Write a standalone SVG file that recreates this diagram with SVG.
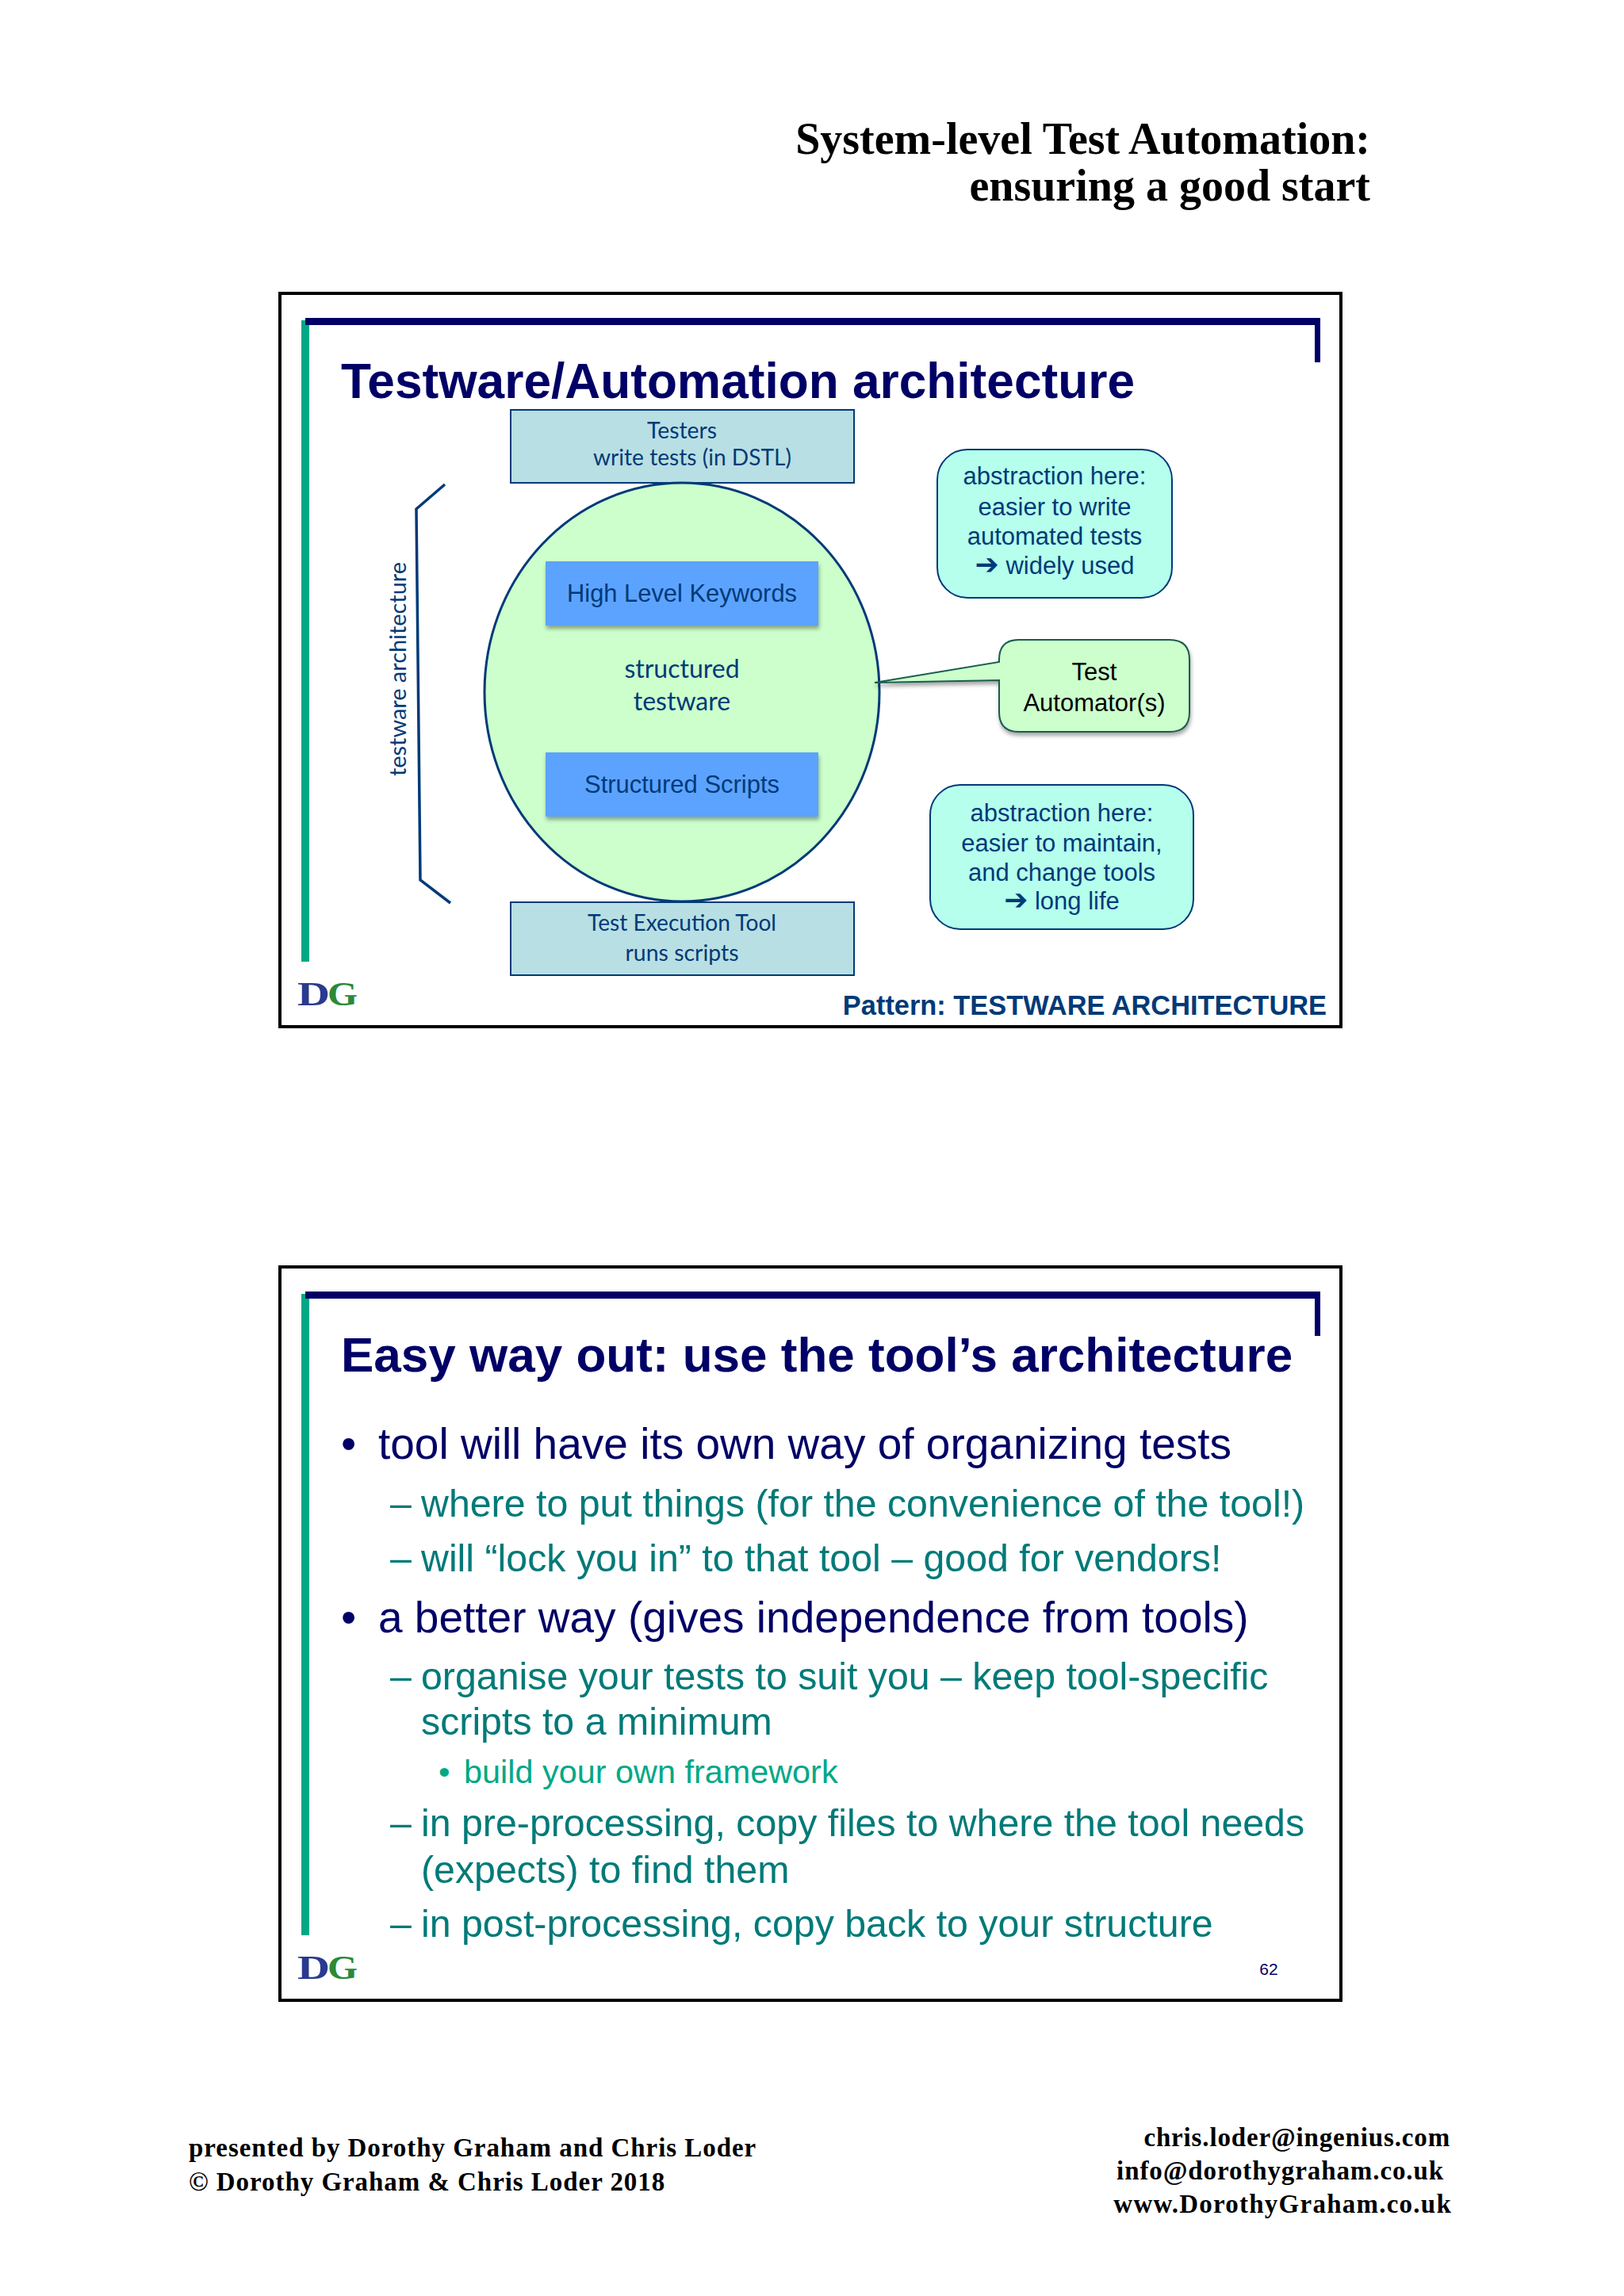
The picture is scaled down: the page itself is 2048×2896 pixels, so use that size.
<svg xmlns="http://www.w3.org/2000/svg" width="2048" height="2896" viewBox="0 0 2048 2896">
<defs>
<filter id="sh" x="-10%" y="-10%" width="120%" height="125%"><feDropShadow dx="1" dy="4" stdDeviation="2.5" flood-color="#000" flood-opacity="0.35"/></filter>
</defs>
<style>
text{font-family:"Liberation Sans",Arial,sans-serif}
.hd{font-family:"Liberation Serif","Times New Roman",serif;font-weight:bold;fill:#000}
.frame{fill:#fff;stroke:#000;stroke-width:4}
.gbar{fill:#00a886}
.nbar{fill:#000066}
.title{font-weight:bold;font-size:62.2px;fill:#000066}
.box{fill:#b8dfe3;stroke:#003a78;stroke-width:2}
.lato{font-family:Lato,"Open Sans",sans-serif;fill:#003a78;text-anchor:middle}
.blue{fill:#5ca3ff;filter:url(#sh)}
.mid{text-anchor:middle;fill:#003a78}
.cal{fill:#b5ffec;stroke:#003a78;stroke-width:2}
.l1{font-size:55px;fill:#000066}
.l2{font-size:48.3px;fill:#007a78}
.l3{font-size:41.4px;fill:#00a886}
.arrow{font-family:"DejaVu Sans",sans-serif;font-weight:bold;font-size:36px}
</style>
<text class="hd" x="1728" y="194" font-size="56" text-anchor="end">System-level Test Automation:</text>
<text class="hd" x="1728" y="253" font-size="56" text-anchor="end">ensuring a good start</text>

<g id="slide1">
<rect class="frame" x="353" y="370" width="1338" height="925"/>
<rect class="gbar" x="380" y="404" width="10" height="809"/>
<rect class="nbar" x="385" y="401" width="1280" height="9"/>
<rect class="nbar" x="1658" y="401" width="7" height="56"/>
<text class="title" x="430" y="502">Testware/Automation architecture</text>
<g id="dg1"><text class="hd" x="375" y="1268" font-size="43" textLength="41" lengthAdjust="spacingAndGlyphs" style="fill:#2a3a8f">D</text><text class="hd" x="413" y="1268" font-size="43" textLength="38" lengthAdjust="spacingAndGlyphs" style="fill:#2a8a3a">G</text></g>
<text x="1673" y="1280" font-size="34.4" font-weight="bold" fill="#003a78" text-anchor="end">Pattern: TESTWARE ARCHITECTURE</text>
</g>

<g id="connectors">
<polyline id="brace" points="561,611 525,642 530,1110 568,1139" fill="none" stroke="#003a78" stroke-width="3.5"/>
</g>

<g id="testers"><rect class="box" x="644" y="517" width="433" height="92"/>
<text class="lato" x="860" y="553" font-size="29" textLength="88" lengthAdjust="spacingAndGlyphs">Testers</text>
<text class="lato" x="873" y="587" font-size="29" textLength="250" lengthAdjust="spacingAndGlyphs">write tests (in DSTL)</text></g>

<g id="testware"><ellipse cx="860" cy="873" rx="249" ry="264" fill="#ccffcc" stroke="#003a78" stroke-width="3"/>
<text class="lato" x="860" y="855" font-size="32">structured</text>
<text class="lato" x="860" y="896" font-size="32">testware</text></g>

<g id="hlk"><rect class="blue" x="688" y="708" width="344" height="81"/>
<text class="mid" x="860" y="759" font-size="32" textLength="290" lengthAdjust="spacingAndGlyphs">High Level Keywords</text></g>
<g id="scripts"><rect class="blue" x="688" y="949" width="344" height="81"/>
<text class="mid" x="860" y="1000" font-size="32" textLength="246" lengthAdjust="spacingAndGlyphs">Structured Scripts</text></g>

<g id="tool"><rect class="box" x="644" y="1138" width="433" height="92"/>
<text class="lato" x="860" y="1174" font-size="29" textLength="238" lengthAdjust="spacingAndGlyphs">Test Execution Tool</text>
<text class="lato" x="860" y="1212" font-size="29" textLength="143" lengthAdjust="spacingAndGlyphs">runs scripts</text></g>

<g id="arch-label"><text class="lato" transform="translate(512,979) rotate(-90)" x="135" y="0" font-size="28" textLength="270" lengthAdjust="spacingAndGlyphs">testware architecture</text></g>

<g id="abs1"><rect class="cal" x="1182" y="567" width="296" height="187" rx="38"/>
<text class="mid" x="1330" y="611" font-size="31">abstraction here:</text>
<text class="mid" x="1330" y="650" font-size="31">easier to write</text>
<text class="mid" x="1330" y="687" font-size="31">automated tests</text>
<text class="mid" x="1330" y="724" font-size="31"><tspan class="arrow">➔</tspan> widely used</text></g>

<g id="automator"><path d="M1103 861 L1260 835 V832 Q1260 807 1285 807 H1475 Q1500 807 1500 832 V898 Q1500 923 1475 923 H1285 Q1260 923 1260 898 V858 Z" fill="#ccffcc" stroke="#1a5c50" stroke-width="2" filter="url(#sh)"/>
<text x="1380" y="858" font-size="31" text-anchor="middle" fill="#000">Test</text>
<text x="1380" y="897" font-size="31" text-anchor="middle" fill="#000">Automator(s)</text></g>

<g id="abs2"><rect class="cal" x="1173" y="990" width="332" height="182" rx="38"/>
<text class="mid" x="1339" y="1036" font-size="31">abstraction here:</text>
<text class="mid" x="1339" y="1074" font-size="31">easier to maintain,</text>
<text class="mid" x="1339" y="1111" font-size="31">and change tools</text>
<text class="mid" x="1339" y="1147" font-size="31"><tspan class="arrow">➔</tspan> long life</text></g>

<g id="slide2">
<rect class="frame" x="353" y="1598" width="1338" height="925"/>
<rect class="gbar" x="380" y="1632" width="10" height="809"/>
<rect class="nbar" x="385" y="1629" width="1280" height="9"/>
<rect class="nbar" x="1658" y="1629" width="7" height="56"/>
<text class="title" x="430" y="1730" style="font-size:62px">Easy way out: use the tool’s architecture</text>
<text class="l1" x="430" y="1840">•</text><text class="l1" x="477" y="1840">tool will have its own way of organizing tests</text>
<text class="l2" x="492" y="1913">–</text><text class="l2" x="531" y="1913">where to put things (for the convenience of the tool!)</text>
<text class="l2" x="492" y="1982">–</text><text class="l2" x="531" y="1982">will “lock you in” to that tool – good for vendors!</text>
<text class="l1" x="430" y="2059">•</text><text class="l1" x="477" y="2059">a better way (gives independence from tools)</text>
<text class="l2" x="492" y="2131">–</text><text class="l2" x="531" y="2131">organise your tests to suit you – keep tool-specific</text>
<text class="l2" x="531" y="2188">scripts to a minimum</text>
<text class="l3" x="553" y="2249">•</text><text class="l3" x="585" y="2249">build your own framework</text>
<text class="l2" x="492" y="2316">–</text><text class="l2" x="531" y="2316">in pre-processing, copy files to where the tool needs</text>
<text class="l2" x="531" y="2375">(expects) to find them</text>
<text class="l2" x="492" y="2443">–</text><text class="l2" x="531" y="2443">in post-processing, copy back to your structure</text>
<g id="dg2"><text class="hd" x="375" y="2496" font-size="43" textLength="41" lengthAdjust="spacingAndGlyphs" style="fill:#2a3a8f">D</text><text class="hd" x="413" y="2496" font-size="43" textLength="38" lengthAdjust="spacingAndGlyphs" style="fill:#2a8a3a">G</text></g>
<text x="1600" y="2491" font-size="21" text-anchor="middle" fill="#000066">62</text>
</g>

<g id="footer">
<text class="hd" x="238" y="2720" font-size="33" letter-spacing="0.95">presented by Dorothy Graham and Chris Loder</text>
<text class="hd" x="238" y="2763" font-size="33" letter-spacing="0.95">© Dorothy Graham &amp; Chris Loder 2018</text>
<text class="hd" x="1829" y="2707" font-size="33" letter-spacing="0.85" text-anchor="end">chris.loder@ingenius.com</text>
<text class="hd" x="1821" y="2749" font-size="33" letter-spacing="0.9" text-anchor="end">info@dorothygraham.co.uk</text>
<text class="hd" x="1831" y="2791" font-size="33" letter-spacing="1.24" text-anchor="end">www.DorothyGraham.co.uk</text>
</g>
</svg>
